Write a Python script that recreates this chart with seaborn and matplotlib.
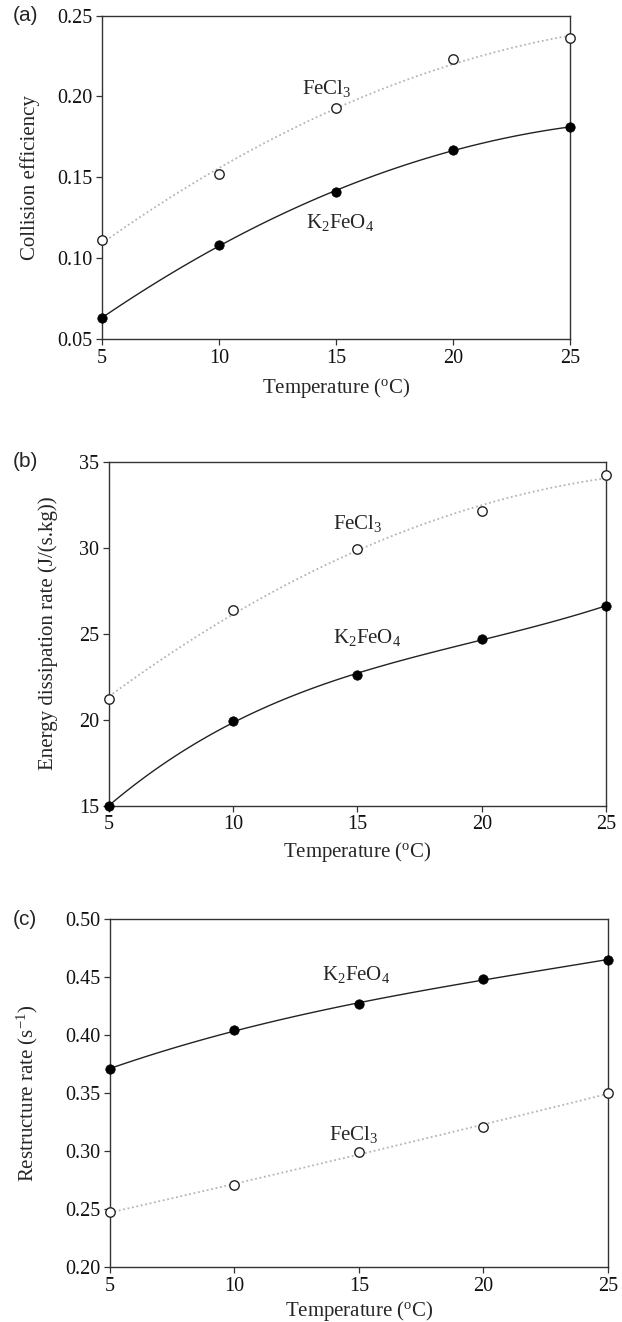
import numpy as np
import pandas as pd
import seaborn as sns
import matplotlib.pyplot as plt

# data
temps = [5, 10, 15, 20, 25]

coll_k2feo4 = [0.063, 0.108, 0.141, 0.167, 0.181]
coll_fecl3 = [0.111, 0.152, 0.193, 0.223, 0.236]

energy_k2feo4 = [15.0, 19.9, 22.6, 24.7, 26.6]
energy_fecl3 = [21.2, 26.4, 29.9, 32.1, 34.2]

restr_k2feo4 = [0.371, 0.404, 0.427, 0.448, 0.465]
restr_fecl3 = [0.247, 0.271, 0.299, 0.321, 0.350]

sns.set_style("ticks")
plt.rcParams['font.family'] = ['Liberation Serif', 'DejaVu Serif']
plt.rcParams['mathtext.fontset'] = 'custom'
plt.rcParams['mathtext.rm'] = 'Liberation Serif'
plt.rcParams['mathtext.it'] = 'Liberation Serif:italic'
plt.rcParams['mathtext.default'] = 'regular'
plt.rcParams['axes.edgecolor'] = '#333333'
plt.rcParams['axes.linewidth'] = 1.0
plt.rcParams['xtick.color'] = '#333333'
plt.rcParams['ytick.color'] = '#333333'
plt.rcParams['xtick.labelcolor'] = '#111111'
plt.rcParams['ytick.labelcolor'] = '#111111'

fig = plt.figure(figsize=(6.22, 13.22), dpi=100)

panels = [
    dict(rect=[0.164, 0.7436, 0.752, 0.2446], k2=coll_k2feo4, fe=coll_fecl3,
         ylim=(0.05, 0.25), yticks=[0.05, 0.10, 0.15, 0.20, 0.25], fmt="{:.2f}",
         ylabel="Collision efficiency", letter="(a)",
         fe_lab=(14.6, 0.205), k2_lab=(15.2, 0.122), ylab_x=-0.132,
         let_x=-0.19, xpad=6),
    dict(rect=[0.1752, 0.3905, 0.799, 0.2604], k2=energy_k2feo4, fe=energy_fecl3,
         ylim=(15, 35), yticks=[15, 20, 25, 30, 35], fmt="{:.0f}",
         ylabel="Energy dissipation rate (J/(s.kg))", letter="(b)",
         fe_lab=(15.0, 31.4), k2_lab=(15.4, 24.8), ylab_x=-0.103,
         let_x=-0.193, xpad=4),
    dict(rect=[0.1768, 0.0416, 0.8006, 0.2632], k2=restr_k2feo4, fe=restr_fecl3,
         ylim=(0.20, 0.50), yticks=[0.20, 0.25, 0.30, 0.35, 0.40, 0.45, 0.50], fmt="{:.2f}",
         ylabel="Restructure rate (s$^{-1}$)", letter="(c)",
         fe_lab=(14.8, 0.314), k2_lab=(14.9, 0.452), ylab_x=-0.141,
         let_x=-0.195, xpad=2),
]

for p in panels:
    ax = fig.add_axes(p["rect"])
    df = pd.DataFrame({"T": temps, "k2": p["k2"], "fe": p["fe"]})

    # fitted curves
    sns.regplot(data=df, x="T", y="fe", order=2, ci=None, scatter=False, ax=ax,
                line_kws=dict(color="#b5b5b5", lw=1.3, ls=(0, (1, 1.5))))
    sns.regplot(data=df, x="T", y="k2", order=3, ci=None, scatter=False, ax=ax,
                line_kws=dict(color="#222222", lw=1.0))

    # data points
    sns.scatterplot(data=df, x="T", y="fe", ax=ax, s=46, color="white",
                    edgecolor="#222222", linewidth=1.0, zorder=5, clip_on=False)
    sns.scatterplot(data=df, x="T", y="k2", ax=ax, s=46, color="black",
                    edgecolor="black", linewidth=0.5, zorder=5, clip_on=False)

    ax.set_xlim(5, 25)
    ax.set_ylim(*p["ylim"])
    ax.set_xticks(temps)
    ax.set_xticklabels([str(t) for t in temps], fontsize=14.5)
    ax.set_yticks(p["yticks"])
    ax.set_yticklabels([p["fmt"].format(v) for v in p["yticks"]], fontsize=14.5)
    ax.tick_params(direction="out", length=4, width=0.9, pad=3)

    ax.set_xlabel("Temperature ($^{o}$C)", fontsize=15, labelpad=p["xpad"])
    ax.set_ylabel(p["ylabel"], fontsize=15)
    ax.yaxis.set_label_coords(p["ylab_x"], 0.5)

    ax.text(*p["fe_lab"], "FeCl$_3$", fontsize=15, ha="center", va="center")
    ax.text(*p["k2_lab"], "K$_2$FeO$_4$", fontsize=15, ha="center", va="center")

    ax.text(p["let_x"], 1.0, p["letter"], transform=ax.transAxes, fontsize=15,
            family="Liberation Sans", ha="left", va="center")

fig.savefig("out.png", dpi=100, facecolor="white")
